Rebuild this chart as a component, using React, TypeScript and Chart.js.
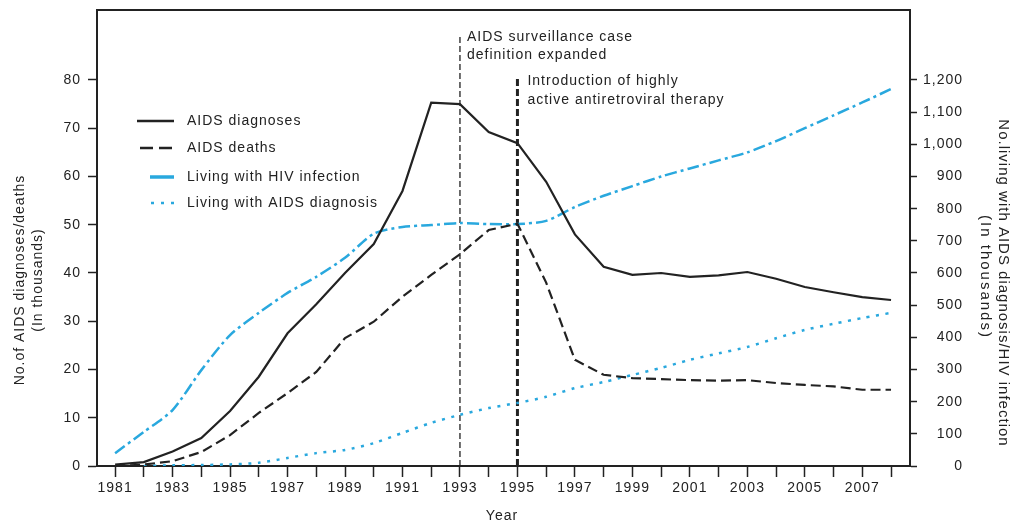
import React, { useEffect, useRef } from 'react';
import { Chart, registerables } from 'chart.js';

Chart.register(...registerables);

// ---------- data ----------
const years = [1981, 1982, 1983, 1984, 1985, 1986, 1987, 1988, 1989, 1990, 1991, 1992, 1993, 1994,
  1995, 1996, 1997, 1998, 1999, 2000, 2001, 2002, 2003, 2004, 2005, 2006, 2007, 2008];
const aidsDiagnoses = [0.3, 0.8, 3.0, 5.8, 11.4, 18.5, 27.5, 33.5, 40.0, 46.0, 57.0, 75.3, 75.0, 69.2,
  66.9, 58.9, 48.0, 41.3, 39.6, 40.0, 39.2, 39.5, 40.2, 38.8, 37.1, 36.0, 35.0, 34.4];
const aidsDeaths = [0, 0.3, 1.0, 2.9, 6.4, 11.0, 15.1, 19.5, 26.5, 29.9, 35.1, 39.6, 43.9, 48.9,
  50.2, 38.0, 22.0, 18.9, 18.2, 18.0, 17.8, 17.7, 17.8, 17.2, 16.8, 16.5, 15.8, 15.8];
const livingHiv = [40, 106, 174, 298, 407, 476, 538, 588, 647, 722, 743, 749, 755, 752,
  752, 762, 805, 840, 870, 900, 925, 950, 975, 1010, 1050, 1090, 1130, 1172];
const livingAidsYears = [1982, 1983, 1984, 1985, 1986, 1987, 1988, 1989, 1990, 1991, 1992, 1993, 1994,
  1995, 1996, 1997, 1998, 1999, 2000, 2001, 2002, 2003, 2004, 2005, 2006, 2007, 2008];
const livingAids = [0, 2, 3, 5, 10, 25, 40, 50, 71, 103, 134, 159, 180,
  196, 215, 242, 261, 283, 305, 330, 350, 370, 397, 423, 442, 460, 476];

const xLabelYears = [1981, 1983, 1985, 1987, 1989, 1991, 1993, 1995, 1997, 1999, 2001, 2003, 2005, 2007];
const leftTicks = [0, 10, 20, 30, 40, 50, 60, 70, 80];
const rightTicks = [0, 100, 200, 300, 400, 500, 600, 700, 800, 900, 1000, 1100, 1200];

const legendLabels = ['AIDS diagnoses', 'AIDS deaths', 'Living with HIV infection', 'Living with AIDS diagnosis'];
const eventYears = [1993, 1995];
const eventLabels = [
  ['AIDS surveillance case', 'definition expanded'],
  ['Introduction of highly', 'active antiretroviral therapy'],
];
const leftTitle = ['No.of AIDS diagnoses/deaths', '(In thousands)'];
const rightTitle = ['No.living with AIDS diagnosis/HIV infection', '(In thousands)'];
const xTitle = 'Year';

// ---------- styles ----------
const FONT = "'Liberation Sans', Arial, Helvetica, sans-serif";
const INK = '#222222';
const BLUE = '#29a8de';

const setSpacing = (chart: any) => {
  try { chart.ctx.letterSpacing = '1px'; } catch (e) { /* ignore */ }
};

const zeroPad = (scale: any) => {
  scale.paddingTop = 0;
  scale.paddingBottom = 0;
  scale.paddingLeft = 0;
  scale.paddingRight = 0;
};

const decorPlugin = {
  id: 'decor',
  beforeUpdate(chart: any) { setSpacing(chart); },
  beforeLayout(chart: any) { setSpacing(chart); },
  beforeDraw(chart: any) { setSpacing(chart); },
  beforeDatasetsDraw(chart: any) {
    const { ctx, chartArea, scales } = chart;
    const x = scales.x;
    ctx.save();
    // 1993 thin dashed line
    const xa = x.getPixelForValue(eventYears[0]);
    ctx.strokeStyle = INK;
    ctx.lineWidth = 1.3;
    ctx.setLineDash([6, 3]);
    ctx.beginPath();
    ctx.moveTo(xa, chartArea.bottom);
    ctx.lineTo(xa, chartArea.top + 25);
    ctx.stroke();
    // 1995 thick dashed line
    const xb = x.getPixelForValue(eventYears[1]);
    ctx.lineWidth = 3;
    ctx.setLineDash([7, 3]);
    ctx.beginPath();
    ctx.moveTo(xb, chartArea.bottom);
    ctx.lineTo(xb, chartArea.top + 68);
    ctx.stroke();
    ctx.restore();
  },
  afterDraw(chart: any) {
    const { ctx, chartArea, scales } = chart;
    const x = scales.x;
    ctx.save();
    try { ctx.letterSpacing = '1px'; } catch (e) { /* ignore */ }
    // top border of the box
    ctx.strokeStyle = INK;
    ctx.lineWidth = 2;
    ctx.beginPath();
    ctx.moveTo(chartArea.left - 1, chartArea.top);
    ctx.lineTo(chartArea.right + 1, chartArea.top);
    ctx.stroke();

    ctx.fillStyle = INK;
    ctx.font = `14px ${FONT}`;
    ctx.textBaseline = 'middle';
    ctx.textAlign = 'left';

    // event annotations
    const xa = x.getPixelForValue(eventYears[0]);
    ctx.fillText(eventLabels[0][0], xa + 7, 37);
    ctx.fillText(eventLabels[0][1], xa + 7, 55);
    const xb = x.getPixelForValue(eventYears[1]);
    ctx.fillText(eventLabels[1][0], xb + 10, 81);
    ctx.fillText(eventLabels[1][1], xb + 10, 100);

    // legend
    const rows = [121, 148, 177, 203];
    ctx.lineCap = 'butt';
    ctx.strokeStyle = INK; ctx.lineWidth = 2.5; ctx.setLineDash([]);
    ctx.beginPath(); ctx.moveTo(137, rows[0]); ctx.lineTo(174, rows[0]); ctx.stroke();
    ctx.setLineDash([13, 6]);
    ctx.beginPath(); ctx.moveTo(140, rows[1]); ctx.lineTo(172, rows[1]); ctx.stroke();
    ctx.strokeStyle = BLUE; ctx.lineWidth = 3.5; ctx.setLineDash([]);
    ctx.beginPath(); ctx.moveTo(150, rows[2]); ctx.lineTo(174, rows[2]); ctx.stroke();
    ctx.lineWidth = 2.5; ctx.setLineDash([3, 7]);
    ctx.beginPath(); ctx.moveTo(151, rows[3]); ctx.lineTo(175, rows[3]); ctx.stroke();
    ctx.setLineDash([]);
    legendLabels.forEach((t, i) => ctx.fillText(t, 187, rows[i]));

    // x title
    ctx.textAlign = 'center';
    ctx.fillText(xTitle, 502, 516);

    // left title
    ctx.save();
    ctx.translate(20, 280);
    ctx.rotate(-Math.PI / 2);
    ctx.fillText(leftTitle[0], 0, 0);
    ctx.restore();
    ctx.save();
    ctx.translate(38, 280);
    ctx.rotate(-Math.PI / 2);
    ctx.fillText(leftTitle[1], 0, 0);
    ctx.restore();

    // right title
    ctx.font = `15px ${FONT}`;
    ctx.save();
    ctx.translate(1003, 283);
    ctx.rotate(Math.PI / 2);
    ctx.fillText(rightTitle[0], 0, 0);
    ctx.restore();
    ctx.save();
    try { ctx.letterSpacing = '2px'; } catch (e) { /* ignore */ }
    ctx.translate(985, 277);
    ctx.rotate(Math.PI / 2);
    ctx.fillText(rightTitle[1], 0, 0);
    ctx.restore();

    ctx.restore();
  },
};

export default function App() {
  const canvasRef = useRef<HTMLCanvasElement | null>(null);

  useEffect(() => {
    if (!canvasRef.current) return;
    const tickFont = { family: FONT, size: 14 };
    const chart = new Chart(canvasRef.current, {
      type: 'line',
      data: {
        datasets: [
          {
            label: legendLabels[0],
            data: years.map((y, i) => ({ x: y, y: aidsDiagnoses[i] })),
            borderColor: INK,
            borderWidth: 2.2,
            pointRadius: 0,
            tension: 0,
            yAxisID: 'y',
          },
          {
            label: legendLabels[1],
            data: years.map((y, i) => ({ x: y, y: aidsDeaths[i] })),
            borderColor: INK,
            borderWidth: 2.2,
            borderDash: [10, 5],
            pointRadius: 0,
            tension: 0,
            yAxisID: 'y',
          },
          {
            label: legendLabels[2],
            data: years.map((y, i) => ({ x: y, y: livingHiv[i] })),
            borderColor: BLUE,
            borderWidth: 2.5,
            borderDash: [12, 4, 3, 4],
            pointRadius: 0,
            tension: 0.25,
            yAxisID: 'y1',
          },
          {
            label: legendLabels[3],
            data: livingAidsYears.map((y, i) => ({ x: y, y: livingAids[i] })),
            borderColor: BLUE,
            borderWidth: 2.5,
            borderDash: [3, 6.5],
            pointRadius: 0,
            tension: 0.25,
            yAxisID: 'y1',
          },
        ],
      },
      options: {
        animation: false,
        responsive: true,
        maintainAspectRatio: false,
        events: [],
        layout: { padding: { top: 10, right: 50, bottom: 0, left: 0 } },
        plugins: {
          legend: { display: false },
          tooltip: { enabled: false },
        },
        scales: {
          x: {
            type: 'linear',
            position: 'bottom',
            min: 1980.37,
            max: 2008.66,
            afterBuildTicks: (scale: any) => {
              scale.ticks = years.map((v) => ({ value: v }));
            },
            afterFit: (scale: any) => { scale.height = 57; zeroPad(scale); },
            ticks: {
              stepSize: 1,
              includeBounds: false,
              autoSkip: false,
              maxRotation: 0,
              minRotation: 0,
              maxTicksLimit: 100,
              padding: 3,
              color: INK,
              font: tickFont,
              callback: (v: any) => (xLabelYears.includes(Number(v)) ? String(v) : ''),
            },
            grid: { drawOnChartArea: false, drawTicks: true, tickLength: 11, tickWidth: 1.5, tickColor: INK },
            border: { display: true, color: INK, width: 2 },
          },
          y: {
            type: 'linear',
            position: 'left',
            min: 0,
            max: 94.5,
            afterBuildTicks: (scale: any) => {
              scale.ticks = leftTicks.map((v) => ({ value: v }));
            },
            afterFit: (scale: any) => { scale.width = 97; zeroPad(scale); },
            ticks: {
              stepSize: 10,
              padding: 7,
              color: INK,
              font: tickFont,
              callback: (v: any) => String(v),
            },
            grid: { drawOnChartArea: false, drawTicks: true, tickLength: 9, tickWidth: 1.5, tickColor: INK },
            border: { display: true, color: INK, width: 2 },
          },
          y1: {
            type: 'linear',
            position: 'right',
            min: 0,
            max: 1417.5,
            afterBuildTicks: (scale: any) => {
              scale.ticks = rightTicks.map((v) => ({ value: v }));
            },
            afterFit: (scale: any) => { scale.width = 53; zeroPad(scale); },
            ticks: {
              stepSize: 100,
              padding: 5,
              crossAlign: 'far',
              color: INK,
              font: tickFont,
              callback: (v: any) => Number(v).toLocaleString('en-US'),
            },
            grid: { drawOnChartArea: false, drawTicks: true, tickLength: 7, tickWidth: 1.5, tickColor: INK },
            border: { display: true, color: INK, width: 2 },
          },
        },
      } as any,
      plugins: [decorPlugin as any],
    });
    return () => chart.destroy();
  }, []);

  return (
    <div style={{ position: 'absolute', left: 0, top: 0, width: 1013, height: 523, background: '#fff' }}>
      <canvas ref={canvasRef} />
    </div>
  );
}
